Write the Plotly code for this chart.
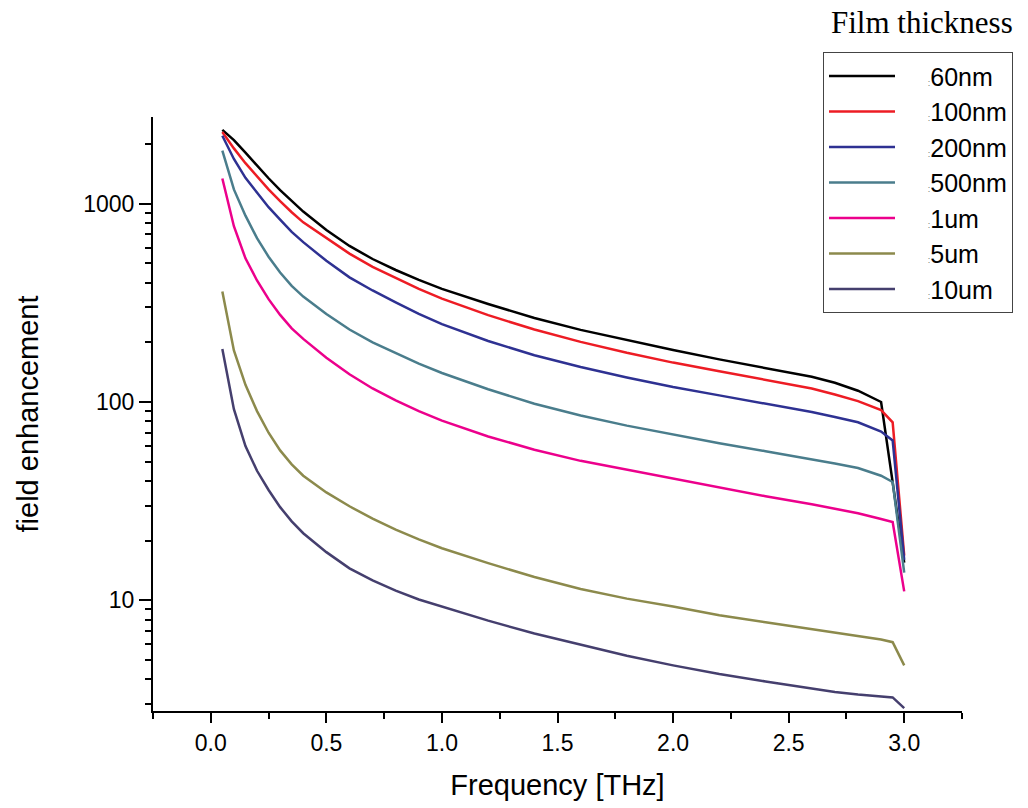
import plotly.graph_objects as go

freq = [0.05, 0.1, 0.15, 0.2, 0.25, 0.3, 0.35, 0.4, 0.5, 0.6, 0.7, 0.8, 0.9, 1.0,
        1.2, 1.4, 1.6, 1.8, 2.0, 2.2, 2.4, 2.6, 2.7, 2.8, 2.9, 2.95, 3.0]

fe_60nm = [2355, 2090, 1810, 1556, 1343, 1169, 1028, 912, 736, 612, 526, 463, 413, 372,
           312, 265, 231, 205, 183, 164, 148, 134, 125, 114, 100, None, 15.5]
fe_100nm = [2300, 1900, 1600, 1370, 1180, 1030, 905, 805, 670, 560, 480, 422, 372, 332,
            274, 232, 201, 177, 158, 143, 129.5, 117, 109, 101, 91, 79, 16.8]
fe_200nm = [2200, 1680, 1350, 1140, 960, 830, 720, 640, 515, 425, 365, 318, 278, 247,
            203, 172, 150, 133, 119, 108, 98, 89, 84, 79, 71, 64, 16]
fe_500nm = [1850, 1180, 870, 670, 540, 450, 385, 340, 278, 232, 200, 176, 156, 140,
            116, 98, 85.5, 76, 68.5, 62, 56.5, 51.5, 49, 46.5, 42.5, 39.5, 13.8]
fe_1um = [1340, 770, 530, 410, 330, 275, 235, 208, 167, 138, 117, 102, 90, 80.5,
          67, 57.5, 50.5, 45.5, 41, 37, 33.5, 30.5, 29, 27.5, 25.7, 24.8, 11.1]
fe_5um = [361, 182, 122, 90, 70, 57, 48.5, 42.5, 35, 29.8, 25.8, 22.7, 20.3, 18.3,
          15.4, 13.1, 11.4, 10.2, 9.3, 8.4, 7.75, 7.15, 6.9, 6.6, 6.35, 6.15, 4.7]
fe_10um = [185, 92, 60, 45, 36, 29.5, 25, 21.8, 17.5, 14.5, 12.6, 11.2, 10.1, 9.3,
           7.9, 6.8, 5.95, 5.25, 4.7, 4.25, 3.9, 3.6, 3.45, 3.35, 3.28, 3.24, 2.86]

series_names = ["60nm", "100nm", "200nm", "500nm", "1um", "5um", "10um"]
series_values = [fe_60nm, fe_100nm, fe_200nm, fe_500nm, fe_1um, fe_5um, fe_10um]
series_colors = ["#000000", "#ED1C24", "#2E3192", "#4A7D8C", "#EC008C", "#8C8A4C", "#453F6E"]

x_ticks = [0.0, 0.5, 1.0, 1.5, 2.0, 2.5, 3.0]
x_ticktext = ["0.0", "0.5", "1.0", "1.5", "2.0", "2.5", "3.0"]
y_ticks = [10, 100, 1000]
y_ticktext = ["10", "100", "1000"]
y_minor = [3, 4, 5, 6, 7, 8, 9, 20, 30, 40, 50, 60, 70, 80, 90,
           200, 300, 400, 500, 600, 700, 800, 900, 2000]

fig = go.Figure()
for name, vals, col in zip(series_names, series_values, series_colors):
    fig.add_trace(go.Scatter(
        x=freq, y=vals, mode="lines", connectgaps=True,
        name="\u00a0\u00a0\u00a0\u00a0<span style='font-size:9px;color:#777'>:</span>" + name,
        line=dict(color=col, width=2.5),
    ))

sans = "Liberation Sans, Arial"
axis_font = dict(family=sans, size=23, color="#000")

# plot area in pixels: x 153..962, y 117..713
fig.update_layout(
    width=1028, height=808,
    margin=dict(l=153, r=66, t=117, b=95),
    paper_bgcolor="white", plot_bgcolor="white",
    showlegend=True,
    legend=dict(
        x=(823 - 153) / 809, y=(713 - 52) / 596, xanchor="left", yanchor="top",
        bordercolor="#444", borderwidth=1, bgcolor="white",
        font=dict(family=sans, size=25, color="#000"),
        itemwidth=66, tracegroupgap=0,
    ),
    xaxis=dict(
        range=[-0.25, 3.25], showgrid=False, zeroline=False,
        showline=True, linecolor="#000", linewidth=2,
        tickmode="array", tickvals=x_ticks, ticktext=x_ticktext,
        ticks="outside", ticklen=10, tickwidth=1.5, tickcolor="#000",
        minor=dict(dtick=0.25, tick0=0, ticks="outside", ticklen=6, tickwidth=1.5,
                   tickcolor="#000", showgrid=False),
        tickfont=axis_font,
        title=dict(text="Frequency [THz]", font=dict(family=sans, size=29, color="#000"), standoff=20),
    ),
    yaxis=dict(
        type="log", range=[0.442, 3.437], showgrid=False, zeroline=False,
        showline=True, linecolor="#000", linewidth=2,
        tickmode="array", tickvals=y_ticks, ticktext=y_ticktext,
        ticks="outside", ticklen=12, tickwidth=1.5, tickcolor="#000",
        minor=dict(tickmode="array", tickvals=y_minor, ticks="outside", ticklen=6,
                   tickwidth=1.5, tickcolor="#000", showgrid=False),
        tickfont=axis_font,
        title=dict(text="field enhancement", font=dict(family=sans, size=29, color="#000"), standoff=36),
    ),
    annotations=[dict(
        text="Film thickness", x=(922 - 153) / 809, y=(713 - 22) / 596,
        xref="paper", yref="paper", xanchor="center", yanchor="middle",
        showarrow=False, font=dict(family="Liberation Serif, Times New Roman", size=31, color="#000"),
    )],
)

fig.write_html("out.html")
